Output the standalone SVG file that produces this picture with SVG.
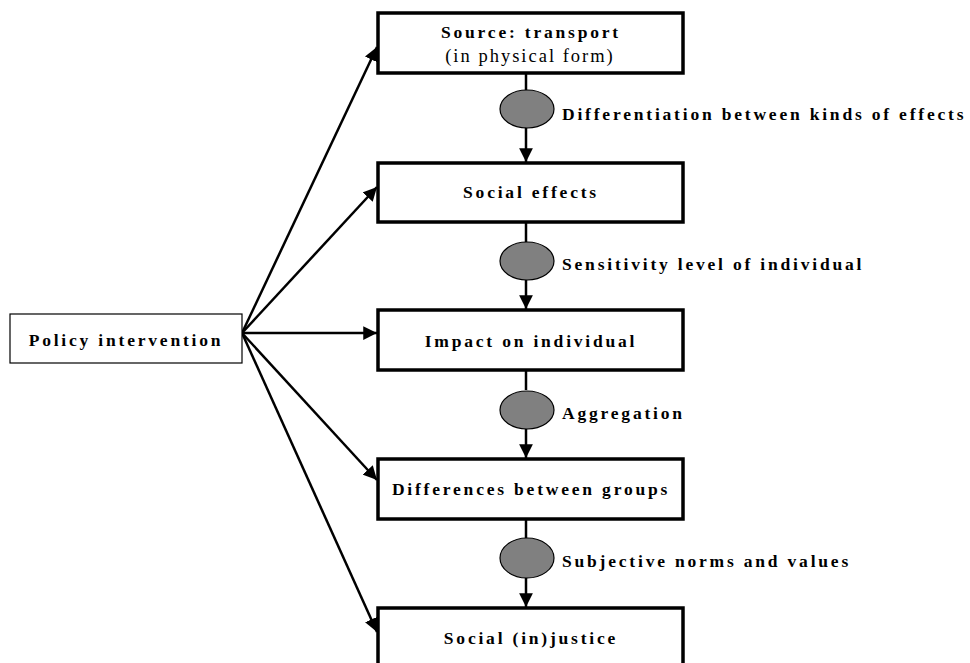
<svg xmlns="http://www.w3.org/2000/svg" width="970" height="663" viewBox="0 0 970 663">
<style>
.box{fill:#fff;stroke:#000;stroke-width:3.5}
.pbox{fill:#fff;stroke:#000;stroke-width:1.2}
.ell{fill:#808080;stroke:#000;stroke-width:1.2}
.t{font-family:"Liberation Serif","Times New Roman",serif;font-size:17.5px;font-weight:bold;letter-spacing:2.8px;fill:#000}
.n{font-family:"Liberation Serif","Times New Roman",serif;font-size:18.5px;letter-spacing:2px;fill:#000}
.c{stroke:#000;stroke-width:2.5;fill:none}
</style>
<defs>
<marker id="ah" viewBox="0 0 10 10" refX="10" refY="5" markerWidth="5.5" markerHeight="5.5" markerUnits="strokeWidth" orient="auto">
<path d="M0,0 L10,5 L0,10 z" fill="#000"/>
</marker>
</defs>
<g id="connectors">
<line class="c" x1="242" y1="333" x2="377" y2="47" marker-end="url(#ah)"/>
<line class="c" x1="242" y1="333" x2="377" y2="187" marker-end="url(#ah)"/>
<line class="c" x1="242" y1="333" x2="377" y2="333" marker-end="url(#ah)"/>
<line class="c" x1="242" y1="333" x2="377" y2="480" marker-end="url(#ah)"/>
<line class="c" x1="242" y1="333" x2="377" y2="632" marker-end="url(#ah)"/>
<line class="c" x1="526" y1="73" x2="526" y2="90"/>
<line class="c" x1="526" y1="127" x2="526" y2="162" marker-end="url(#ah)"/>
<line class="c" x1="526" y1="222" x2="526" y2="242"/>
<line class="c" x1="526" y1="280" x2="526" y2="309" marker-end="url(#ah)"/>
<line class="c" x1="526" y1="370" x2="526" y2="390"/>
<line class="c" x1="526" y1="429" x2="526" y2="458" marker-end="url(#ah)"/>
<line class="c" x1="526" y1="519" x2="526" y2="538"/>
<line class="c" x1="526" y1="578" x2="526" y2="607" marker-end="url(#ah)"/>
</g>
<g id="policy">
<rect class="pbox" x="10" y="314" width="232" height="49"/>
<text class="t" x="126" y="346" text-anchor="middle">Policy intervention</text>
</g>
<g id="source">
<rect class="box" x="378" y="13" width="305" height="60"/>
<text class="t" x="531" y="38" text-anchor="middle">Source: transport</text>
<text class="n" x="530" y="62" text-anchor="middle">(in physical form)</text>
</g>
<g id="social-effects">
<rect class="box" x="378" y="163" width="305" height="59"/>
<text class="t" x="531" y="198" text-anchor="middle">Social effects</text>
</g>
<g id="impact">
<rect class="box" x="378" y="310" width="305" height="60"/>
<text class="t" x="531" y="347" text-anchor="middle">Impact on individual</text>
</g>
<g id="differences">
<rect class="box" x="378" y="459" width="305" height="60"/>
<text class="t" x="531" y="495" text-anchor="middle">Differences between groups</text>
</g>
<g id="injustice">
<rect class="box" x="378" y="608" width="305" height="70"/>
<text class="t" x="531" y="644" text-anchor="middle">Social (in)justice</text>
</g>
<g id="m1">
<ellipse class="ell" cx="527" cy="109" rx="27" ry="19"/>
<text class="t" x="562" y="120">Differentiation between kinds of effects</text>
</g>
<g id="m2">
<ellipse class="ell" cx="527" cy="261" rx="27" ry="19"/>
<text class="t" x="562" y="270">Sensitivity level of individual</text>
</g>
<g id="m3">
<ellipse class="ell" cx="527" cy="410" rx="27" ry="19"/>
<text class="t" x="562" y="419">Aggregation</text>
</g>
<g id="m4">
<ellipse class="ell" cx="527" cy="558" rx="27" ry="20"/>
<text class="t" x="562" y="567">Subjective norms and values</text>
</g>
</svg>
